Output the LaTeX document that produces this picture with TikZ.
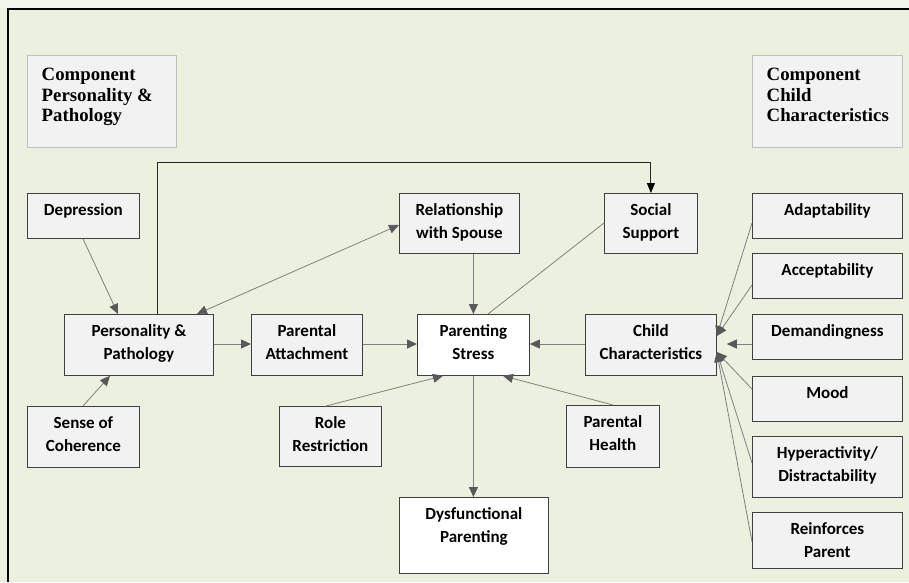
\documentclass[tikz,border=0pt]{standalone}
\usepackage{fontspec}
\setmainfont{Carlito}
\newfontfamily\serifhead{Liberation Serif}
\usetikzlibrary{arrows.meta,calc}
\definecolor{bgg}{HTML}{EBF1DE}
\definecolor{bgtop}{HTML}{F3F6EC}
\definecolor{boxfill}{HTML}{F2F2F2}
\definecolor{boxline}{HTML}{3F3F3F}
\definecolor{cline}{HTML}{BFBFBF}
\definecolor{conn}{HTML}{808080}
\definecolor{tipc}{HTML}{595959}
\newcommand{\bxt}[3]{\parbox[c][#2pt][t]{#1pt}{\centering\rule{0pt}{22pt}#3}}
\newcommand{\cpt}[3]{\parbox[c][#2pt][t]{#1pt}{\raggedright\leftskip=14pt\rule{0pt}{25pt}#3}}
\begin{document}
\begin{tikzpicture}[x=1pt,y=-1pt,
  box/.style={draw=boxline,fill=boxfill,inner sep=0pt,line width=0.8pt,anchor=north west,
    font=\bfseries\fontsize{17}{23}\selectfont},
  wbox/.style={box,fill=white},
  cbox/.style={draw=cline,fill=boxfill,inner sep=0pt,line width=1.4pt,anchor=north west,
    font=\serifhead\bfseries\fontsize{18.8}{20.5}\selectfont},
  conn/.style={draw=conn,line width=0.8pt},
  arr/.style={conn,-{Triangle[length=10pt,width=9pt,color=tipc]}},
  darr/.style={conn,{Triangle[length=10pt,width=9pt,color=tipc]}-{Triangle[length=10pt,width=9pt,color=tipc]}},
  topline/.style={draw=black!85,line width=0.9pt,-{Triangle[length=10pt,width=8pt,color=black]}}]
\fill[bgg] (0,0) rectangle (909,582);
\fill[bgtop] (0,0) rectangle (909,8);
\useasboundingbox (0,0) rectangle (909,582);
\draw[black,line width=1.6pt] (8,582) -- (8,9) -- (909,9);

% component headers
\node[cbox] (cpp) at (27,55) {\cpt{149}{92}{Component\\Personality \&\\Pathology}};
\node[cbox] (ccc) at (752,55) {\cpt{150}{92}{Component\\Child\\Characteristics}};

% boxes
\node[box] (dep) at (27,193) {\bxt{112}{45}{Depression}};
\node[box] (pp) at (64,314) {\bxt{149}{61}{Personality \&\\Pathology}};
\node[box] (soc) at (27,406) {\bxt{112}{61}{Sense of\\Coherence}};
\node[box] (pa) at (251,314) {\bxt{111}{61}{Parental\\Attachment}};
\node[box] (rr) at (279,406) {\bxt{102}{60}{Role\\Restriction}};
\node[box] (rws) at (399,193) {\bxt{120}{60}{Relationship\\with Spouse}};
\node[wbox] (ps) at (417,314) {\bxt{112}{61}{Parenting\\Stress}};
\node[wbox] (dp) at (399,497) {\bxt{149}{76}{Dysfunctional\\Parenting}};
\node[box] (ss) at (604,193) {\bxt{93}{60}{Social\\Support}};
\node[box] (ph) at (566,405) {\bxt{93}{62}{Parental\\Health}};
\node[box] (cc) at (585,314) {\bxt{131}{61}{Child\\Characteristics}};
\node[box] (ad) at (752,193) {\bxt{150}{45}{Adaptability}};
\node[box] (ac) at (752,253) {\bxt{150}{45}{Acceptability}};
\node[box] (de) at (752,314) {\bxt{150}{45}{Demandingness}};
\node[box] (mo) at (752,376) {\bxt{150}{45}{Mood}};
\node[box] (hy) at (752,436) {\bxt{150}{61}{Hyperactivity/\\Distractability}};
\node[box] (rp) at (752,512) {\bxt{150}{56}{Reinforces\\Parent}};

% connectors
\draw[arr] ($(dep.south west)+(56,0)$) -- ($(pp.north west)+(54,0)$);
\draw[arr] ($(soc.north west)+(56,0)$) -- ($(pp.south west)+(46,0)$);
\draw[darr] ($(pp.north west)+(133,0)$) -- ($(rws.north west)+(0,32)$);
\draw[arr] ($(pp.north east)+(0,30)$) -- ($(pa.north west)+(0,30)$);
\draw[arr] ($(pa.north east)+(0,30)$) -- ($(ps.north west)+(0,30)$);
\draw[arr] (rws.south -| ps.north) -- (ps.north);
\draw[conn] ($(ss.north west)+(0,30)$) -- ($(ps.north west)+(71,0)$);
\draw[arr] ($(cc.north west)+(0,30)$) -- ($(ps.north east)+(0,30)$);
\draw[arr] ($(rr.north west)+(47,0)$) -- ($(ps.south west)+(26,0)$);
\draw[arr] ($(ph.north west)+(47,0)$) -- ($(ps.south west)+(86,0)$);
\draw[arr] (ps.south) -- (ps.south |- dp.north);
\draw[topline] ($(pp.north west)+(93,0)$) -- ($(pp.north west)+(93,-152)$) -| (ss.north);

\draw[arr] ($(ad.north west)+(0,30)$) -- ($(cc.north east)+(0,22)$);
\draw[arr] ($(ac.north west)+(0,32)$) -- ($(cc.north east)+(0,22)$);
\draw[arr] ($(de.north west)+(0,30)$) -- ($(cc.north east)+(10,30)$);
\draw[arr] ($(mo.north west)+(0,13)$) -- ($(cc.north east)+(0,38)$);
\draw[arr] ($(hy.north west)+(0,27)$) -- ($(cc.north east)+(0,38)$);
\draw[arr] ($(rp.north west)+(0,30)$) -- ($(cc.north east)+(0,38)$);
\end{tikzpicture}
\end{document}
